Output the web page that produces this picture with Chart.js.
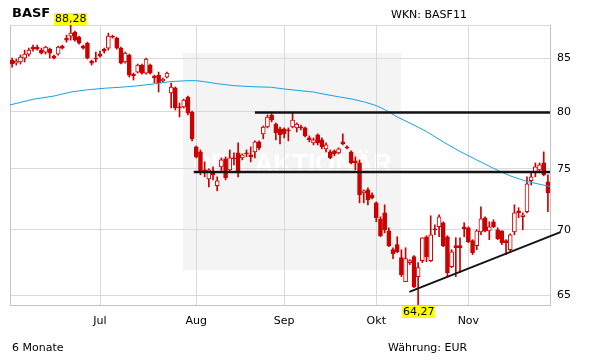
<!DOCTYPE html>
<html>
<head>
<meta charset="utf-8">
<script src="https://cdn.jsdelivr.net/npm/chart.js@4.4.1/dist/chart.umd.min.js"></script>
<style>
  body { margin: 0; background: #fff; }
  #wrap { position: relative; width: 611px; height: 364px; font-family: "DejaVu Sans", sans-serif; }
  canvas { position: absolute; left: 0; top: 0; }
  .t { position: absolute; font-size: 11px; line-height: 11px; color: #000; white-space: nowrap; }
</style>
</head>
<body>
<div id="wrap">
  <canvas id="c" width="611" height="364"></canvas>
  <div class="t" style="left:12px;top:6px;font-size:13px;line-height:13px;font-weight:bold">BASF</div>
  <div class="t" style="left:391px;top:9px">WKN: BASF11</div>
  <div class="t" style="left:12px;top:342px">6 Monate</div>
  <div class="t" style="left:388px;top:342px">Währung: EUR</div>
</div>
<script>
// daily candles, Jun - Nov
const open = [84.84,84.55,84.65,85.03,85.42,86.10,86.10,85.80,85.61,85.90,
  85.22,85.42,86.19,86.98,87.17,87.57,87.07,86.19,86.49,84.74,
  85.03,85.42,85.90,86.00,87.17,86.98,86.00,84.65,85.32,83.50,
  83.69,84.36,83.60,84.36,83.32,83.41,82.85,83.22,81.73,82.20,
  80.45,80.45,81.36,79.99,76.89,76.45,74.91,74.15,74.74,73.57,
  75.16,75.85,74.91,75.93,76.36,75.93,76.36,76.19,76.45,77.32,
  78.03,78.64,79.72,78.91,78.47,78.47,78.38,78.64,78.56,78.64,
  78.56,77.67,77.24,77.94,77.50,76.71,76.45,76.54,76.36,77.32,
  76.89,76.45,75.68,75.50,72.98,73.23,72.82,72.16,70.87,71.35,
  69.91,68.43,68.82,67.81,65.99,67.43,67.89,66.37,67.58,69.44,
  67.58,70.07,70.23,70.55,69.44,67.13,68.74,68.74,70.23,70.15,
  69.13,68.74,69.83,70.95,69.91,70.63,69.99,69.91,69.13,68.43,
  69.83,71.52,71.03,71.44,73.99,74.66,74.91,75.50,73.90];
const high = [85.03,84.94,85.32,85.80,86.00,86.29,86.29,86.00,86.19,86.00,
  85.32,86.19,86.29,87.27,88.28,87.67,87.17,86.29,86.58,84.84,
  85.61,85.70,86.00,87.47,87.27,87.07,86.10,85.61,85.42,83.60,
  84.46,84.46,85.03,84.46,83.41,83.69,83.13,83.69,82.66,82.29,
  80.81,81.17,81.45,80.08,76.97,76.62,75.59,75.00,75.16,74.32,
  75.93,76.02,76.62,76.36,77.24,76.28,76.62,76.89,77.41,77.41,
  78.73,79.72,79.99,79.00,78.64,78.56,78.56,79.99,79.00,78.82,
  78.64,77.85,77.67,78.03,77.67,77.24,76.62,76.62,76.80,78.03,
  76.97,76.54,76.02,75.76,73.23,73.40,72.98,72.24,71.03,72.00,
  70.15,68.58,69.44,68.43,68.58,67.66,67.97,67.43,69.36,69.52,
  71.11,70.39,71.19,70.63,69.52,68.43,69.36,69.36,70.55,70.23,
  69.21,69.99,71.84,71.03,70.63,70.79,70.15,69.91,69.21,69.67,
  72.00,71.76,71.35,74.32,74.74,75.50,75.50,76.45,74.49];
const low = [84.17,84.36,84.46,84.65,85.22,85.70,85.80,85.42,85.42,85.03,
  84.94,85.32,85.90,86.58,86.78,86.68,86.39,85.90,84.94,84.36,
  84.65,85.13,85.51,85.80,86.98,85.90,84.46,84.55,83.22,82.94,
  83.60,83.50,83.50,83.50,82.66,81.82,82.75,83.13,80.35,80.17,
  79.54,80.35,79.72,77.41,75.93,74.49,74.32,73.48,74.07,73.15,
  74.74,74.07,74.74,75.33,74.32,75.76,76.02,75.59,75.93,76.62,
  77.59,78.56,79.09,77.50,77.15,77.67,77.41,78.56,78.20,78.38,
  77.76,77.32,77.06,77.06,76.71,76.45,75.85,76.11,76.28,77.06,
  76.71,75.42,74.91,72.16,72.16,72.00,72.49,70.63,69.44,69.75,
  68.66,67.74,68.20,66.37,65.99,67.28,65.55,64.27,67.43,67.51,
  67.51,69.60,69.44,68.66,66.37,67.05,66.37,66.67,69.44,68.97,
  68.04,68.43,69.60,69.83,69.21,70.15,69.21,68.82,68.04,68.20,
  69.60,70.95,69.99,71.35,73.65,74.32,74.66,74.40,71.44];
const close = [84.46,84.74,85.13,85.42,85.80,85.90,85.90,85.51,86.10,85.51,
  85.03,86.10,86.00,86.78,87.47,86.78,86.49,86.00,85.03,84.55,
  84.94,85.22,85.70,87.17,87.07,86.00,84.55,85.51,83.41,83.32,
  84.36,83.60,84.94,83.60,83.13,82.66,83.03,83.60,82.29,80.35,
  80.35,81.08,79.90,77.59,76.02,74.74,74.83,74.91,74.49,73.99,
  75.76,74.24,75.93,75.85,74.66,76.19,76.28,76.02,77.32,76.80,
  78.64,79.54,79.27,78.11,77.94,78.03,78.29,79.27,78.91,78.56,
  77.85,77.50,77.50,77.24,76.89,77.06,75.93,76.28,76.71,77.15,
  76.80,75.50,75.50,72.82,73.15,72.41,72.57,70.95,69.52,69.99,
  68.74,68.12,68.27,66.52,67.74,67.58,65.62,67.05,69.36,67.89,
  69.60,69.99,71.03,68.74,66.67,68.27,68.58,68.58,70.07,69.05,
  68.20,69.91,70.87,69.91,70.23,70.23,69.28,68.97,68.97,69.60,
  71.35,71.35,71.19,73.73,74.32,75.16,75.33,74.49,72.98];

// 100-day average, read at some days
const maIdx = [-0.5,5,10,14,18,22,26,30,34,38,42,44,46,49,53,58,62,65,69,72,
  75,78,81,84,87,89,92,95,99,103,107,111,115,119,123,128.5];
const maVal = [80.63,81.15,81.45,81.82,82.03,82.17,82.27,82.40,82.58,82.80,82.88,82.88,82.78,82.60,82.41,82.31,82.26,82.10,81.94,81.82,
  81.59,81.38,81.19,80.92,80.57,80.22,79.54,79.00,78.24,77.32,76.49,75.76,75.04,74.40,73.93,73.51];

// drawn lines: horizontal levels and the trend line
const levelFrom = [58, 43.4];
const levelVal = [79.95, 74.72];
const trendIdx = [94.9, 131];
const trendVal = [65.23, 69.8];

const monthIdx = [21, 44, 65, 87, 109];
const monthNames = ['Jul', 'Aug', 'Sep', 'Okt', 'Nov'];
const yTicks = [65, 70, 75, 80, 85];

const days = open.map((_, i) => String(i));
const yMin = Math.min(...low);
const yMax = Math.max(...high);
const last = days.length - 0.5;
const red = '#cc0000';

Chart.defaults.font.family = '"DejaVu Sans", sans-serif';
Chart.defaults.font.size = 11;
Chart.defaults.color = '#000';

const watermark = {
  id: 'watermark',
  beforeDraw(chart) {
    const ctx = chart.ctx;
    ctx.save();
    ctx.fillStyle = '#f4f4f4';
    ctx.fillRect(183, 53, 218, 217);
    ctx.fillStyle = '#ffffff';
    ctx.font = 'bold 26px "Liberation Sans"';
    ctx.textAlign = 'center';
    ctx.fillText('DER AKTIONÄR', 292, 172);
    ctx.restore();
  },
  beforeDatasetsDraw(chart) {
    const {ctx, chartArea} = chart;
    ctx.save();
    ctx.strokeStyle = '#c4c4c4';
    ctx.lineWidth = 1;
    ctx.beginPath();
    ctx.moveTo(chartArea.left + 0.5, chartArea.top);
    ctx.lineTo(chartArea.left + 0.5, chartArea.bottom);
    ctx.stroke();
    ctx.restore();
  }
};

const extremes = {
  id: 'extremes',
  afterDatasetsDraw(chart) {
    const {ctx, scales} = chart;
    ctx.save();
    ctx.font = '11px "DejaVu Sans"';
    ctx.textBaseline = 'middle';
    const mark = (i, v, above) => {
      const t = v.toFixed(2).replace('.', ',');
      const w = Math.round(ctx.measureText(t).width) + 2;
      const px = Math.round(scales.x.getPixelForValue(i) - w / 2);
      const py = Math.round(scales.y.getPixelForValue(v));
      const top = above ? py - 12 : py + 1;
      ctx.fillStyle = '#ffff00';
      ctx.fillRect(px, top, w, 12);
      ctx.fillStyle = '#000';
      ctx.fillText(t, px + 1, top + 6.5);
    };
    mark(high.indexOf(yMax), yMax, true);
    mark(low.indexOf(yMin), yMin, false);
    ctx.restore();
  }
};

const lineStyle = { type: 'line', xAxisID: 'x2', pointRadius: 0, tension: 0, borderColor: '#141414', borderWidth: 2.5 };

new Chart(document.getElementById('c'), {
  type: 'bar',
  data: {
    labels: days,
    datasets: [
      ...levelVal.map((v, k) => ({ ...lineStyle, order: 0,
        data: [{x: levelFrom[k], y: v}, {x: last, y: v}] })),
      { ...lineStyle, order: 0, borderWidth: 2, clip: false,
        data: trendIdx.map((x, k) => ({x, y: trendVal[k]})) },
      { type: 'line', xAxisID: 'x2', order: 1, pointRadius: 0, tension: 0,
        borderColor: '#12a3e3', borderWidth: 1,
        data: maIdx.map((x, k) => ({x, y: maVal[k]})) },
      { order: 2, grouped: false, barThickness: 4, minBarLength: 1,
        borderWidth: 1, borderSkipped: false, borderColor: red,
        backgroundColor: open.map((o, i) => close[i] >= o ? '#ffffff' : red),
        data: open.map((o, i) => [o, close[i]]) },
      { order: 3, grouped: false, barThickness: 1, backgroundColor: red,
        data: low.map((l, i) => [l, high[i]]) }
    ]
  },
  options: {
    responsive: false,
    animation: false,
    devicePixelRatio: 1,
    events: [],
    layout: { padding: { left: 10, top: 25, right: 0, bottom: 0 } },
    plugins: { legend: { display: false }, tooltip: { enabled: false } },
    scales: {
      x: {
        type: 'category', offset: true,
        afterFit: s => { s.height = 59; s.paddingLeft = 0; s.paddingRight = 0; },
        ticks: { autoSkip: false, maxRotation: 0, padding: 10,
          callback: (v, i) => { const k = monthIdx.indexOf(i); return k >= 0 ? monthNames[k] : ''; } },
        grid: { offset: false, drawTicks: false,
          color: c => monthIdx.includes(c.index) ? '#d9d9d9' : 'rgba(0,0,0,0)' },
        border: { color: '#c4c4c4' }
      },
      x2: { type: 'linear', display: false, offset: false, min: -0.5, max: last },
      y: {
        type: 'logarithmic', position: 'right', min: yMin, max: yMax,
        afterBuildTicks: s => { s.ticks = [yMin, ...yTicks, yMax].map(v => ({value: v})); },
        afterFit: s => { s.width = 61; s.paddingTop = 0; s.paddingBottom = 0; },
        ticks: { padding: 7, callback: v => yTicks.includes(v) ? String(v) : '' },
        grid: { color: '#d9d9d9', drawTicks: false },
        border: { color: '#c4c4c4' }
      }
    }
  },
  plugins: [watermark, extremes]
});
</script>
</body>
</html>
